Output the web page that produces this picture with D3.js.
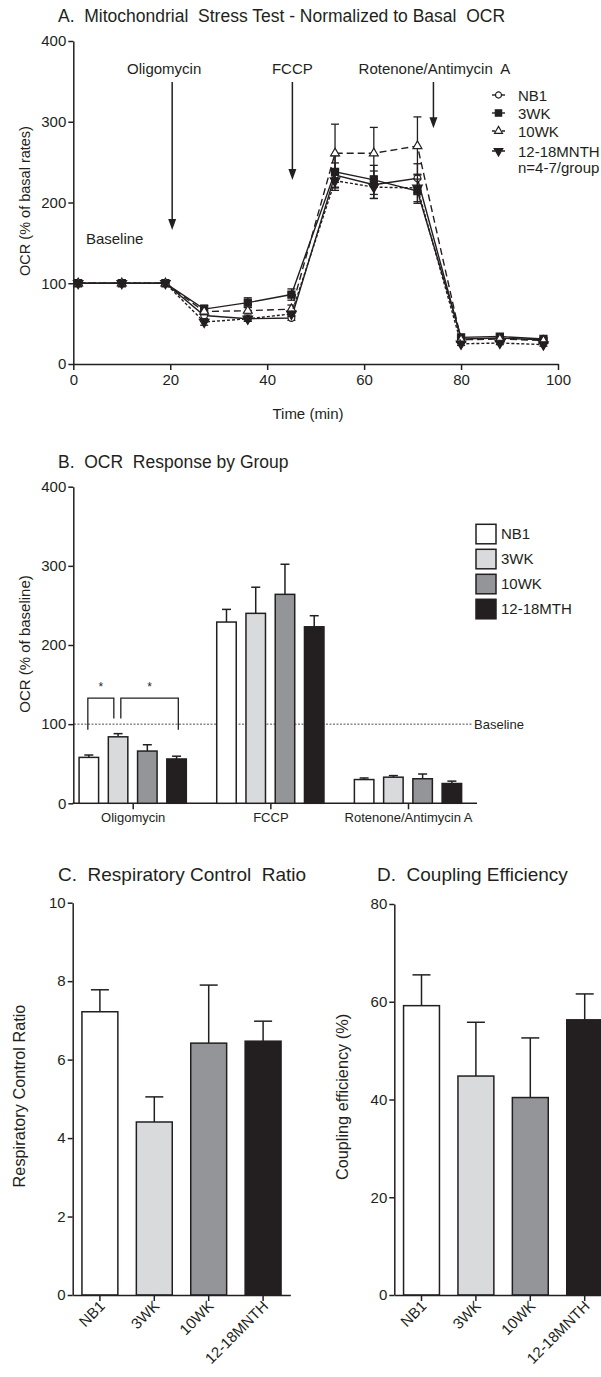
<!DOCTYPE html>
<html>
<head>
<meta charset="utf-8">
<script src="https://cdn.jsdelivr.net/npm/d3@7"></script>
<style>
  body { margin: 0; background: #fff; }
  svg { display: block; font-family: "Liberation Sans", Arial, sans-serif; }
  .axis path, .axis line { stroke: #231f20; stroke-width: 1.5; }
  .axis text { font-size: 15px; fill: #231f20; font-family: "Liberation Sans", Arial, sans-serif; }
  .axis.small text { font-size: 13px; }
</style>
</head>
<body>
<script>
// DATA
// panel A - time course
const times = [1, 10, 19, 27, 36, 45, 54, 62, 71, 80, 88, 97];
const groups = ["NB1", "3WK", "10WK", "12-18MNTH"];
const nb1Mean = [100, 100, 100, 60, 56, 57, 234, 222, 230, 31, 32, 30];
const nb1Sem = [0, 0, 0, 4, 3, 3, 15, 17, 18, 2, 2, 2];
const wk3Mean = [100, 100, 100, 68, 76, 86, 238, 228, 214, 33, 34, 31];
const wk3Sem = [0, 0, 0, 5, 6, 7, 20, 18, 15, 3, 3, 2];
const wk10Mean = [100, 100, 100, 65, 66, 68, 261, 261, 270, 30, 31, 29];
const wk10Sem = [0, 0, 0, 4, 4, 5, 36, 32, 36, 3, 3, 2];
const mnthMean = [100, 100, 100, 52, 56, 62, 227, 219, 218, 25, 26, 24];
const mnthSem = [0, 0, 0, 4, 3, 3, 12, 14, 17, 2, 2, 2];
const injections = ["Oligomycin", "FCCP", "Rotenone/Antimycin A"];
const injectionTimes = [20.4, 45.2, 74.3];
const arrowTips = [166, 228, 292];

// panel B - response by group
const responses = ["Oligomycin", "FCCP", "Rotenone/Antimycin A"];
const legendB = ["NB1", "3WK", "10WK", "12-18MTH"];
const respMean = {
  NB1: [58, 229, 30],
  "3WK": [84, 240, 33],
  "10WK": [66, 264, 31],
  "12-18MNTH": [56, 223, 25]
};
const respErr = {
  NB1: [61, 245, 32],
  "3WK": [88, 273, 35],
  "10WK": [74, 302, 37],
  "12-18MNTH": [59.5, 237, 28]
};

// panels C, D
const rcrMean = [7.22, 4.41, 6.42, 6.47];
const rcrErr = [7.78, 5.05, 7.9, 6.98];
const ceMean = [59.2, 44.8, 40.4, 56.3];
const ceErr = [65.5, 55.8, 52.6, 61.6];

const fills = ["#ffffff", "#d9dadc", "#939598", "#231f20"];
const ink = "#231f20";

// RENDER
const svg = d3.select("body").append("svg").attr("width", 601).attr("height", 1377);

const title = (x, y, t, size) => svg.append("text").attr("x", x).attr("y", y)
  .attr("font-size", size).attr("fill", ink).attr("xml:space", "preserve").text(t);
const yLabel = (x, y, t, size) => svg.append("text")
  .attr("transform", `translate(${x},${y}) rotate(-90)`)
  .attr("text-anchor", "middle").attr("dy", "0.35em").attr("font-size", size).attr("fill", ink).text(t);

// ---------- A ----------
title(58, 22, "A.  Mitochondrial  Stress Test - Normalized to Basal  OCR", 17.5);
const xA = d3.scaleLinear().domain([0, 100]).range([73.3, 558]);
const yA = d3.scaleLinear().domain([0, 400]).range([364, 41]);

svg.append("g").attr("class", "axis").attr("transform", "translate(0,364)")
  .call(d3.axisBottom(xA).tickValues([0, 20, 40, 60, 80, 100]).tickSize(6).tickSizeOuter(0).tickPadding(4));
svg.append("g").attr("class", "axis").attr("transform", "translate(73.3,0)")
  .call(d3.axisLeft(yA).tickValues([0, 100, 200, 300, 400]).tickSize(5).tickSizeOuter(0).tickPadding(2));
yLabel(25, 201, "OCR (% of basal rates)", 14.5);
svg.append("text").attr("x", 308).attr("y", 419).attr("text-anchor", "middle")
  .attr("font-size", 15).attr("fill", ink).text("Time (min)");
svg.append("text").attr("x", xA(2.6)).attr("y", yA(148)).attr("font-size", 15).attr("fill", ink).text("Baseline");

// injection arrows
injections.forEach((name, i) => {
  const x = xA(injectionTimes[i]);
  const tip = yA(arrowTips[i]);
  svg.append("text").attr("x", name === "Oligomycin" ? x - 8 : (name === "FCCP" ? x : x + 1))
    .attr("y", 74).attr("text-anchor", "middle").attr("font-size", 15).attr("fill", ink)
    .attr("xml:space", "preserve").text(name === "Rotenone/Antimycin A" ? "Rotenone/Antimycin  A" : name);
  svg.append("line").attr("x1", x).attr("x2", x).attr("y1", 82).attr("y2", tip - 8)
    .attr("stroke", ink).attr("stroke-width", 1.5);
  svg.append("path").attr("d", `M${x - 4},${tip - 11}L${x + 4},${tip - 11}L${x},${tip}Z`).attr("fill", ink);
});

const seriesA = [
  { name: groups[0], mean: nb1Mean, sem: nb1Sem, dash: null, sym: d3.symbolCircle, size: 36, fill: "#fff" },
  { name: groups[1], mean: wk3Mean, sem: wk3Sem, dash: null, sym: d3.symbolSquare, size: 50, fill: ink },
  { name: groups[2], mean: wk10Mean, sem: wk10Sem, dash: "7,4", sym: d3.symbolTriangle, size: 34, fill: "#fff" },
  { name: groups[3], mean: mnthMean, sem: mnthSem, dash: "3,2", sym: d3.symbolTriangle, size: 40, fill: ink, flip: true }
];
const line = d3.line().x(d => xA(d.t)).y(d => yA(d.v));

seriesA.forEach(s => {
  const pts = times.map((t, i) => ({ t, v: s.mean[i], e: s.sem[i] }));
  const g = svg.append("g");
  pts.filter(p => p.e > 0).forEach(p => {
    const x = xA(p.t);
    g.append("line").attr("x1", x).attr("x2", x).attr("y1", yA(p.v - p.e)).attr("y2", yA(p.v + p.e))
      .attr("stroke", ink).attr("stroke-width", 1.3);
    [p.v - p.e, p.v + p.e].forEach(v => g.append("line").attr("x1", x - 4).attr("x2", x + 4)
      .attr("y1", yA(v)).attr("y2", yA(v)).attr("stroke", ink).attr("stroke-width", 1.3));
  });
  g.append("path").datum(pts).attr("d", line).attr("fill", "none").attr("stroke", ink)
    .attr("stroke-width", 1.4).attr("stroke-dasharray", s.dash);
  g.selectAll("path.pt").data(pts).join("path").attr("class", "pt")
    .attr("d", d3.symbol(s.sym, s.size))
    .attr("transform", d => `translate(${xA(d.t)},${yA(d.v)})${s.flip ? " rotate(180)" : ""}`)
    .attr("fill", s.fill).attr("stroke", ink).attr("stroke-width", 1.2);
});

// legend A
const legA = svg.append("g");
const legAy = [95, 113, 131, 151];
seriesA.forEach((s, i) => {
  const y = legAy[i];
  legA.append("line").attr("x1", 492).attr("x2", 505).attr("y1", y).attr("y2", y)
    .attr("stroke", ink).attr("stroke-width", 1.4).attr("stroke-dasharray", s.dash ? "3,2" : null);
  legA.append("path").attr("d", d3.symbol(s.sym, s.size * 0.8))
    .attr("transform", `translate(498.5,${y})${s.flip ? " rotate(180)" : ""}`)
    .attr("fill", s.fill).attr("stroke", ink).attr("stroke-width", 1.2);
  legA.append("text").attr("x", 518).attr("y", y + 5.5).attr("font-size", 15).attr("fill", ink).text(s.name);
});
legA.append("text").attr("x", 518).attr("y", 173).attr("font-size", 15).attr("fill", ink).text("n=4-7/group");

// ---------- B ----------
title(58, 468, "B.  OCR  Response by Group", 17.5);
const yB = d3.scaleLinear().domain([0, 400]).range([803.3, 486.7]);
const xB = d3.scalePoint().domain(responses).range([132.7, 408]);
const xInner = d3.scaleBand().domain(groups).range([-58.5, 58.5]).paddingInner(0.333).paddingOuter(0.167);

svg.append("line").attr("x1", 72.6).attr("x2", 477).attr("y1", 803.3).attr("y2", 803.3)
  .attr("stroke", ink).attr("stroke-width", 1.5);
const axB = svg.append("g").attr("class", "axis small").attr("transform", "translate(0,803.3)")
  .call(d3.axisBottom(xB).tickSize(6).tickSizeOuter(0).tickPadding(3));
axB.select(".domain").remove();
svg.append("g").attr("class", "axis").attr("transform", "translate(73.3,0)")
  .call(d3.axisLeft(yB).tickValues([0, 100, 200, 300, 400]).tickSize(5).tickSizeOuter(0).tickPadding(2));
yLabel(25, 644, "OCR (% of baseline)", 15);

// baseline
svg.append("line").attr("x1", 74).attr("x2", 473).attr("y1", yB(100)).attr("y2", yB(100))
  .attr("stroke", ink).attr("stroke-width", 0.8).attr("stroke-dasharray", "2,1.5");
svg.append("text").attr("x", 474).attr("y", yB(100) + 5).attr("font-size", 13).attr("fill", ink).text("Baseline");

responses.forEach((r, ri) => {
  groups.forEach((gname, gi) => {
    const x0 = xB(r) + xInner(gname);
    const bw = xInner.bandwidth();
    const cx = x0 + bw / 2;
    const top = yB(respMean[gname][ri]);
    const et = yB(respErr[gname][ri]);
    svg.append("line").attr("x1", cx).attr("x2", cx).attr("y1", top).attr("y2", et)
      .attr("stroke", ink).attr("stroke-width", 1.5);
    svg.append("line").attr("x1", cx - 4.5).attr("x2", cx + 4.5).attr("y1", et).attr("y2", et)
      .attr("stroke", ink).attr("stroke-width", 1.5);
    svg.append("rect").attr("x", x0).attr("y", top).attr("width", bw).attr("height", yB(0) - top)
      .attr("fill", fills[gi]).attr("stroke", ink).attr("stroke-width", 1.5);
  });
});

// significance brackets
const brTop = yB(133);
const brackets = [
  { a: xB("Oligomycin") + xInner("NB1") + xInner.bandwidth() / 2 - 1, b: xB("Oligomycin") + xInner("3WK") + 5.5, la: 93, lb: 107 },
  { a: xB("Oligomycin") + xInner("3WK") + 12.5, b: xB("Oligomycin") + xInner("12-18MNTH") + 11.5, la: 107, lb: 93 }
];
brackets.forEach(br => {
  svg.append("path").attr("d", `M${br.a},${yB(br.la)}V${brTop}H${br.b}V${yB(br.lb)}`)
    .attr("fill", "none").attr("stroke", ink).attr("stroke-width", 1.3);
  svg.append("text").attr("x", (br.a + br.b) / 2).attr("y", brTop - 7).attr("text-anchor", "middle")
    .attr("font-size", 12).attr("fill", ink).text("*");
});

// legend B
legendB.forEach((name, i) => {
  const y = 524.3 + i * 25;
  svg.append("rect").attr("x", 476).attr("y", y).attr("width", 20).attr("height", 19.5)
    .attr("fill", fills[i]).attr("stroke", ink).attr("stroke-width", 1.5);
  svg.append("text").attr("x", 501).attr("y", y + 15).attr("font-size", 15).attr("fill", ink).text(name);
});

// ---------- C & D ----------
function barPanel(opts) {
  const x = d3.scaleBand().domain(groups).range([opts.x0, opts.x0 + 217.6]).paddingInner(0.34).paddingOuter(0.17);
  const y = d3.scaleLinear().domain([0, opts.max]).range([1295, opts.yTop]);
  const g = svg.append("g");
  groups.forEach((gname, i) => {
    const cx = x(gname) + x.bandwidth() / 2;
    const top = y(opts.mean[i]);
    const et = y(opts.err[i]);
    g.append("line").attr("x1", cx).attr("x2", cx).attr("y1", top).attr("y2", et).attr("stroke", ink).attr("stroke-width", 1.5);
    g.append("line").attr("x1", cx - 9).attr("x2", cx + 9).attr("y1", et).attr("y2", et).attr("stroke", ink).attr("stroke-width", 1.5);
    g.append("rect").attr("x", x(gname)).attr("y", top).attr("width", x.bandwidth()).attr("height", 1295 - top)
      .attr("fill", fills[i]).attr("stroke", ink).attr("stroke-width", 1.5);
  });
  g.append("g").attr("class", "axis").attr("transform", `translate(${opts.x0},0)`)
    .call(d3.axisLeft(y).tickValues(opts.ticks).tickSize(5).tickSizeOuter(0).tickPadding(2));
  const ax = g.append("g").attr("class", "axis").attr("transform", "translate(0,1295)")
    .call(d3.axisBottom(x).tickSize(6).tickSizeOuter(0));
  ax.selectAll("text").attr("text-anchor", "end").attr("dy", null)
    .attr("transform", "translate(6,12) rotate(-45)").attr("y", 0).attr("x", 0);
  title(opts.tx, 881, opts.title, 19);
  yLabel(opts.lx, opts.ly, opts.label, 16.3);
}

barPanel({ x0: 72.7, max: 10, yTop: 902.7, ticks: [0, 2, 4, 6, 8, 10], mean: rcrMean, err: rcrErr,
  title: "C.  Respiratory Control  Ratio", tx: 58, label: "Respiratory Control Ratio", lx: 19, ly: 1096 });
barPanel({ x0: 394.3, max: 80, yTop: 904, ticks: [0, 20, 40, 60, 80], mean: ceMean, err: ceErr,
  title: "D.  Coupling Efficiency", tx: 377, label: "Coupling efficiency (%)", lx: 342.5, ly: 1097 });
</script>
</body>
</html>
